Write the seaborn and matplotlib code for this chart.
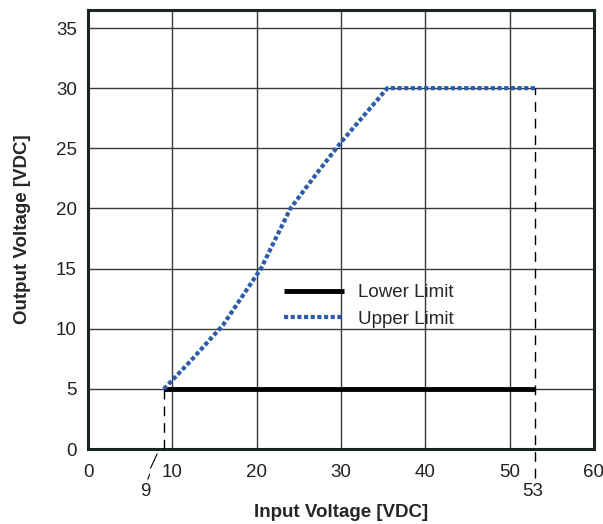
import numpy as np
import pandas as pd
import matplotlib
matplotlib.use('Agg')
import matplotlib.pyplot as plt
import seaborn as sns

# values
lower_x = [9, 53]
lower_y = [5, 5]
upper_x = [9, 12, 16, 20.5, 24, 27, 30, 35.5, 53]
upper_y = [5, 7.2, 10.3, 15, 20, 22.8, 25.5, 30, 30]
x_ticks = [0, 10, 20, 30, 40, 50, 60]
y_ticks = [0, 5, 10, 15, 20, 25, 30, 35]

sns.set_style('white')
plt.rcParams['font.family'] = ['Liberation Sans', 'DejaVu Sans']

fig = plt.figure(figsize=(6.03, 5.24), dpi=100)
ax = fig.add_axes([0.146, 0.143, 0.839, 0.838])

lower = pd.DataFrame({'x': lower_x, 'y': lower_y})
upper = pd.DataFrame({'x': upper_x, 'y': upper_y})

ax.grid(True, color='#3a3a3a', linewidth=1.0)
ax.set_axisbelow(True)

sns.lineplot(data=lower, x='x', y='y', ax=ax, color='black', linewidth=3.5,
             label='Lower Limit', zorder=4, solid_capstyle='butt')
sns.lineplot(data=upper, x='x', y='y', ax=ax, color='#2a5caa', linewidth=3,
             linestyle=(0, (1, 0.6)), label='Upper Limit', zorder=5)

# dashed marker lines for 9 V and 53 V
ax.plot([9, 9], [0, 5], color='black', linewidth=1,
        linestyle=(0, (7, 5)), zorder=3)
ax.plot([53, 53], [-2.4, 30], color='black', linewidth=1,
        linestyle=(0, (7, 5)), clip_on=False, zorder=3)
ax.plot([8.2, 7.4], [-0.4, -1.6], color='black', linewidth=0.8, clip_on=False)
ax.plot([7.3, 7.1], [-2.1, -2.5], color='black', linewidth=0.8, clip_on=False)

ax.set_xlim(0, 60)
ax.set_ylim(0, 36.5)
ax.set_xticks(x_ticks)
ax.set_yticks(y_ticks)
ax.tick_params(axis='both', labelsize=13.5, length=0, colors='#222222')
ax.tick_params(axis='x', pad=11)
ax.tick_params(axis='y', pad=8)
ax.text(6.8, -3.5, '9', ha='center', va='center', fontsize=13.5, color='#222222')
ax.text(52.7, -3.5, '53', ha='center', va='center', fontsize=13.5, color='#222222')

ax.set_xlabel('Input Voltage [VDC]', fontsize=13.5, fontweight='bold', labelpad=16)
ax.set_ylabel('Output Voltage [VDC]', fontsize=13.5, fontweight='bold', labelpad=18)

for s in ax.spines.values():
    s.set_visible(True)
    s.set_color('#1a2420')
    s.set_linewidth(2.2)

leg = ax.legend(loc='center', bbox_to_anchor=(0.555, 0.326), frameon=False,
                fontsize=13.5, handlelength=3.2, handletextpad=0.7, labelspacing=0.5)

fig.savefig('out.png', dpi=100)
